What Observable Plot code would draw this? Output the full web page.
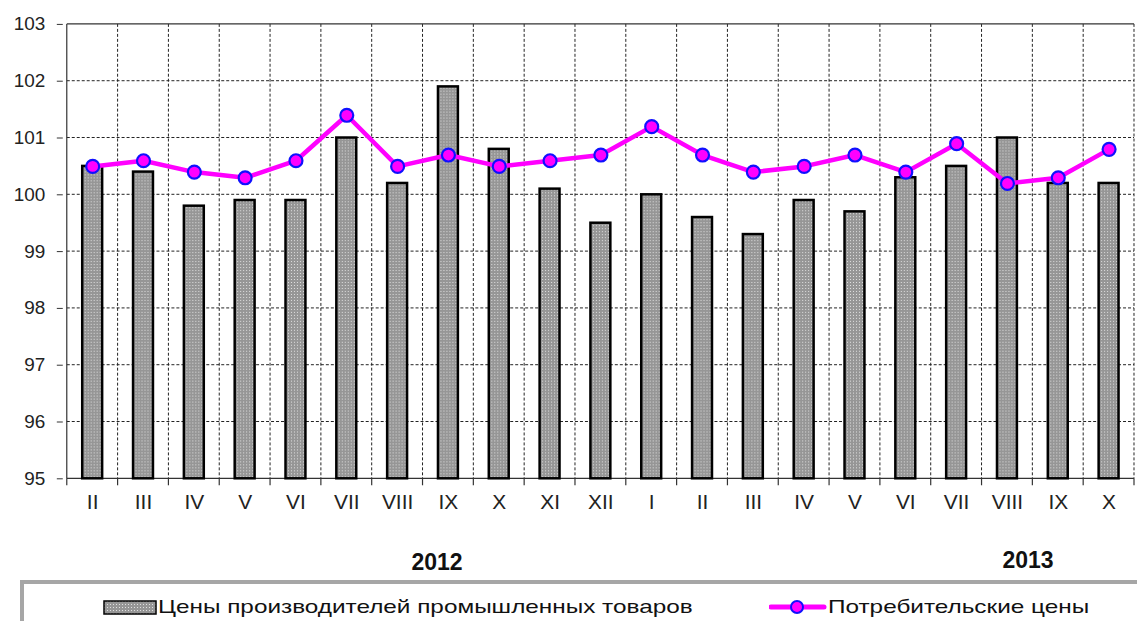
<!DOCTYPE html>
<html><head><meta charset="utf-8">
<script src="https://cdn.jsdelivr.net/npm/d3@7"></script>
<script src="https://cdn.jsdelivr.net/npm/@observablehq/plot@0.6"></script>
<style>
body{margin:0;overflow:hidden;background:#fff;font-family:"Liberation Sans",Arial,sans-serif;}
#wrap{position:relative;width:1137px;height:621px;overflow:hidden;background:#fff}
#chart{position:absolute;left:0;top:0}
svg [aria-label="y-axis tick label"]{font-size:19px;fill:#222}
svg [aria-label="x-axis tick label"]{font-size:21px;fill:#222}
.year{position:absolute;font-weight:bold;font-size:23px;color:#111;transform:translate(-50%,-50%)}
#legend{position:absolute;left:20px;top:580px;width:1200px;height:80px;border:4px solid #a6a6a6;border-right:none;box-sizing:border-box}
.item{position:absolute;top:12px;font-size:19px;color:#111;display:flex;align-items:center;white-space:nowrap}
.item span{display:inline-block;transform:scaleX(1.28);transform-origin:left center}
</style></head><body>
<div id="wrap"><div id="chart"></div>
<div class="year" style="left:437px;top:562px">2012</div>
<div class="year" style="left:1028px;top:560px">2013</div>
<div id="legend">
 <div class="item" style="left:79px"><svg width="54" height="15" style="margin-right:1px"><defs><pattern id="dotsL" width="3" height="3" patternUnits="userSpaceOnUse"><rect width="3" height="3" fill="#969696"/><rect x="1" y="1" width="1" height="1" fill="#e0e0e0"/></pattern></defs><rect x="1" y="1" width="52" height="13" fill="url(#dotsL)" stroke="#000" stroke-width="1.5"/></svg><span>Цены производителей промышленных товаров</span></div>
 <div class="item" style="left:745px"><svg width="58" height="18" style="margin-right:1px"><line x1="2" y1="9" x2="55" y2="9" stroke="#ff00ff" stroke-width="5" stroke-linecap="round"/><circle cx="28" cy="9" r="6" fill="#ff00ff" stroke="#1010ff" stroke-width="2"/></svg><span>Потребительские цены</span></div>
</div>
</div>
<script>
const months = ["II","III","IV","V","VI","VII","VIII","IX","X","XI","XII","I","II","III","IV","V","VI","VII","VIII","IX","X"];
const producerPrices = [100.5,100.4,99.8,99.9,99.9,101.0,100.2,101.9,100.8,100.1,99.5,100.0,99.6,99.3,99.9,99.7,100.3,100.5,101.0,100.2,100.2];
const consumerPrices = [100.5,100.6,100.4,100.3,100.6,101.4,100.5,100.7,100.5,100.6,100.7,101.2,100.7,100.4,100.5,100.7,100.4,100.9,100.2,100.3,100.8];
const yTicks = [95,96,97,98,99,100,101,102,103];

const data = months.map((m, i) => ({i, m, p: producerPrices[i], c: consumerPrices[i]}));
const idx = d3.range(months.length);

function defsMark() {
  const defs = d3.create("svg:defs");
  const p = defs.append("pattern").attr("id","dots").attr("width",3).attr("height",3).attr("patternUnits","userSpaceOnUse");
  p.append("rect").attr("width",3).attr("height",3).attr("fill","#969696");
  p.append("rect").attr("x",1).attr("y",1).attr("width",1).attr("height",1).attr("fill","#e0e0e0");
  return defs.node();
}

function gridMark(index, scales, values, dims) {
  const x = scales.x, y = scales.y;
  const n = months.length;
  const bw = x.bandwidth ? x.bandwidth() : (dims.width - dims.marginLeft - dims.marginRight) / n;
  const xs = d3.range(n + 1).map(k => k < n ? x(k) : x(n - 1) + bw);
  const top = y(yTicks[yTicks.length - 1]), bot = y(yTicks[0]);
  const g = d3.create("svg:g");
  g.selectAll(null).data(yTicks.slice(1, -1)).join("line")
    .attr("x1", xs[0]).attr("x2", xs[n]).attr("y1", d => y(d)).attr("y2", d => y(d))
    .attr("stroke", "#222").attr("stroke-width", 1).attr("stroke-dasharray", "3,2");
  g.selectAll(null).data(xs.slice(1)).join("line")
    .attr("x1", d => d).attr("x2", d => d).attr("y1", top).attr("y2", bot)
    .attr("stroke", "#222").attr("stroke-width", 1).attr("stroke-dasharray", "3,2");
  g.selectAll(null).data([top, bot]).join("line")
    .attr("x1", xs[0]).attr("x2", xs[n]).attr("y1", d => d).attr("y2", d => d)
    .attr("stroke", "#333").attr("stroke-width", 1.2);
  g.append("line").attr("x1", xs[0]).attr("x2", xs[0]).attr("y1", top).attr("y2", bot)
    .attr("stroke", "#333").attr("stroke-width", 1.2);
  g.selectAll(null).data(xs).join("line")
    .attr("x1", d => d).attr("x2", d => d).attr("y1", bot).attr("y2", bot + 7)
    .attr("stroke", "#333").attr("stroke-width", 1.2);
  return g.node();
}

const chart = Plot.plot({
  width: 1141, height: 540,
  marginLeft: 63, marginRight: 0, marginTop: 24, marginBottom: 60,
  style: {fontFamily: "'Liberation Sans', Arial, sans-serif", background: "white", overflow: "visible"},
  x: {type: "band", domain: idx, padding: 0, label: null},
  y: {domain: [yTicks[0], yTicks[yTicks.length - 1]], label: null},
  marks: [
    defsMark,
    gridMark,
    Plot.barY(data, {x: "i", y1: yTicks[0], y2: "p", fill: "url(#dots)", stroke: "#000", strokeWidth: 2.5, insetLeft: 15.5, insetRight: 15.5}),
    Plot.line(data, {x: "i", y: "c", stroke: "#ff00ff", strokeWidth: 4.5}),
    Plot.dot(data, {x: "i", y: "c", r: 6.5, fill: "#ff00ff", stroke: "#1010ff", strokeWidth: 2.2}),
    Plot.axisY({ticks: yTicks, tickSize: 6, tickPadding: 12, tickFormat: d => String(d), stroke: "#333", label: null}),
    Plot.axisX({tickSize: 0, tickPadding: 15, tickFormat: i => months[i], label: null})
  ]
});
document.getElementById("chart").appendChild(chart);
</script>
</body></html>
